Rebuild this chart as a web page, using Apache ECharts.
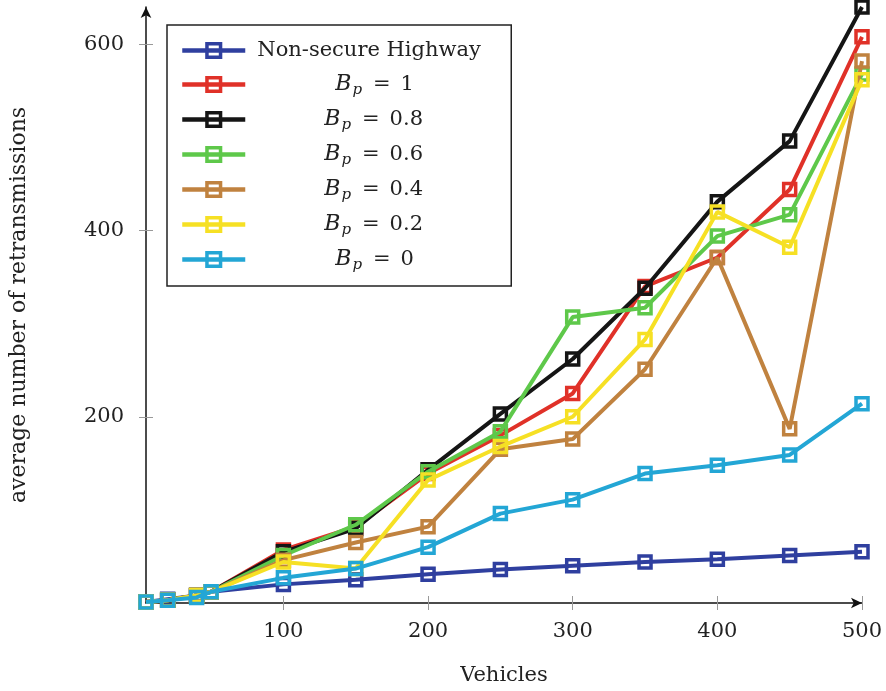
<!DOCTYPE html>
<html>
<head>
<meta charset="utf-8">
<script src="https://cdn.jsdelivr.net/npm/echarts@6/dist/echarts.min.js"></script>
<style>html,body{margin:0;padding:0;background:#fff}#c{width:886px;height:691px}</style>
</head>
<body>
<div id="c"></div>
<script>
var vehicles = [5, 20, 40, 50, 100, 150, 200, 250, 300, 350, 400, 450, 500];
var nonSecure = [1, 4, 8, 12, 20, 25, 31, 36, 40, 44, 47, 51, 55];
var bp1  = [1, 3, 8, 12, 57, 82, 139, 180, 225, 340, 371, 444, 608];
var bp08 = [1, 3, 8, 12, 55, 80, 143, 203, 262, 338, 431, 496, 640];
var bp06 = [1, 3, 8, 12, 51, 84, 141, 184, 307, 317, 394, 417, 568];
var bp04 = [1, 3, 8, 12, 46, 65, 82, 165, 176, 251, 371, 187, 582];
var bp02 = [1, 3, 8, 12, 44, 37, 132, 168, 200, 283, 420, 382, 562];
var bp0  = [1, 3, 6, 12, 27, 37, 60, 96, 111, 139, 148, 159, 214];
var xTicks = [100, 200, 300, 400, 500];
var yTicks = [200, 400, 600];
var seriesNames = ['Non-secure Highway', 'Bp = 1', 'Bp = 0.8', 'Bp = 0.6', 'Bp = 0.4', 'Bp = 0.2', 'Bp = 0'];
var seriesData = [nonSecure, bp1, bp08, bp06, bp04, bp02, bp0];
var colors = ['#2f3f9f', '#e03128', '#151515', '#5ec84a', '#c0823f', '#f6e024', '#23a6d5'];

var FONT = 'DejaVu Serif';
var series = seriesNames.map(function (n, i) {
  return {
    name: n,
    type: 'line',
    data: vehicles.map(function (x, j) { return [x, seriesData[i][j]]; }),
    symbol: 'rect',
    symbolSize: 12,
    lineStyle: { color: colors[i], width: 4 },
    itemStyle: { color: 'rgba(255,255,255,0)', borderColor: colors[i], borderWidth: 3.5 },
    emphasis: { disabled: true },
    animation: false,
    z: 2 + i
  };
});

function legendFmt(name) {
  if (name === 'Non-secure Highway') return '{n|' + name + '}';
  var v = name.split('= ')[1];
  return '{' + (v.length > 1 ? 'b2' : 'b1') + '|B}{p|p}{e|=}{v|' + v + '}';
}

var chart = echarts.init(document.getElementById('c'));
chart.setOption({
  backgroundColor: '#fff',
  animation: false,
  grid: { left: 145, right: 24, top: 7, bottom: 86 },
  legend: {
    orient: 'vertical',
    left: 167, top: 25,
    padding: [12, 16, 12, 13],
    itemWidth: 63, itemHeight: 17, itemGap: 6,
    borderColor: '#222', borderWidth: 1.5,
    backgroundColor: '#fff',
    selectedMode: false,
    data: seriesNames,
    formatter: legendFmt,
    lineStyle: { width: 4.5 },
    itemStyle: { borderWidth: 3.5 },
    textStyle: {
      fontFamily: FONT, color: '#222', fontSize: 21,
      rich: {
        n: { fontFamily: FONT, fontSize: 21, color: '#222', width: 238, lineHeight: 28, padding: [3, 0, 3, 7] },
        b1: { fontFamily: FONT, fontStyle: 'italic', fontSize: 22, color: '#222', lineHeight: 28, padding: [0, 0, 0, 85] },
        b2: { fontFamily: FONT, fontStyle: 'italic', fontSize: 22, color: '#222', lineHeight: 28, padding: [0, 0, 0, 74] },
        p: { fontFamily: FONT, fontStyle: 'italic', fontSize: 15, color: '#222', lineHeight: 14, padding: [13, 1, 1, 1] },
        e: { fontFamily: FONT, fontSize: 21, color: '#222', lineHeight: 28, padding: [0, 10, 0, 10] },
        v: { fontFamily: FONT, fontSize: 21, color: '#222', lineHeight: 28 }
      }
    }
  },
  xAxis: [{
    type: 'value', min: 5, max: 500,
    name: 'Vehicles', nameLocation: 'middle', nameGap: 62,
    nameTextStyle: { fontFamily: FONT, fontSize: 21, color: '#222' },
    axisLine: { show: true, onZero: false, lineStyle: { color: '#111', width: 1.5 }, symbol: ['none', 'arrow'], symbolSize: [8, 11] },
    axisTick: { show: true, length: 7, lineStyle: { color: '#999' }, customValues: xTicks },
    axisLabel: { fontFamily: FONT, fontSize: 21, color: '#222', margin: 18, customValues: xTicks },
    splitLine: { show: false }
  }, {
    type: 'value', min: 5, max: 500, position: 'bottom',
    axisLine: { show: false },
    axisTick: { show: true, inside: true, length: 7, lineStyle: { color: '#999' }, customValues: xTicks },
    axisLabel: { show: false },
    splitLine: { show: false }
  }],
  yAxis: [{
    type: 'value', min: 0, max: 640,
    name: 'average number of retransmissions', nameLocation: 'middle', nameGap: 116, nameRotate: 90,
    nameTextStyle: { fontFamily: FONT, fontSize: 22, color: '#222' },
    axisLine: { show: true, onZero: false, lineStyle: { color: '#111', width: 1.5 }, symbol: ['none', 'arrow'], symbolSize: [8, 11] },
    axisTick: { show: true, length: 7, lineStyle: { color: '#999' }, customValues: yTicks },
    axisLabel: { fontFamily: FONT, fontSize: 21, color: '#222', margin: 22, customValues: yTicks },
    splitLine: { show: false }
  }, {
    type: 'value', min: 0, max: 640, position: 'left',
    axisLine: { show: false },
    axisTick: { show: true, inside: true, length: 7, lineStyle: { color: '#999' }, customValues: yTicks },
    axisLabel: { show: false },
    splitLine: { show: false }
  }],
  series: series
});
</script>
</body>
</html>
